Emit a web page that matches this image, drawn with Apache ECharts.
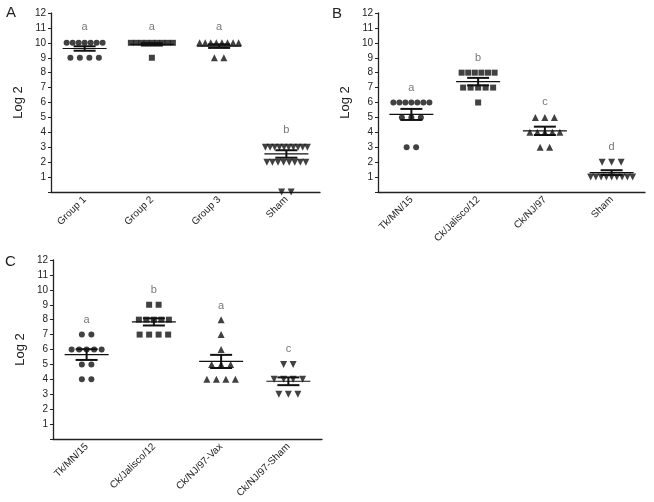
<!DOCTYPE html>
<html><head><meta charset="utf-8">
<script src="https://cdn.jsdelivr.net/npm/echarts/dist/echarts.min.js"></script>
<style>html,body{margin:0;padding:0;background:#fff}#c{width:654px;height:502px}</style>
</head><body><div id="c"></div>
<script>
// ---------- DATA ----------
const catsA = ['Group 1', 'Group 2', 'Group 3', 'Sham'];
const catsB = ['Tk/MN/15', 'Ck/Jalisco/12', 'Ck/NJ/97', 'Sham'];
const catsC = ['Tk/MN/15', 'Ck/Jalisco/12', 'Ck/NJ/97-Vax', 'Ck/NJ/97-Sham'];
const yTicks = [0, 12, 1]; // min, max, step

// individual log2 values per group
const a1 = [10,10,10,10,10,10,10,9,9,9,9];
const a2 = [10,10,10,10,10,10,10,10,10,9];
const a3 = [10,10,10,10,10,10,10,10,9,9];
const a4 = [3,3,3,3,3,3,3,3,3,3,2,2,2,2,2,2,2,2,0,0];
const b1 = [6,6,6,6,6,6,6,5,5,5,3,3];
const b2 = [8,8,8,8,8,8,7,7,7,7,7,6];
const b3 = [5,5,5,4,4,4,4,4,3,3];
const b4 = [2,2,2,1,1,1,1,1,1,1,1,1];
const c1 = [7,7,6,6,6,6,6,5,5,4,4];
const c2 = [9,9,8,8,8,8,8,7,7,7,7];
const c3 = [8,7,6,5,5,5,4,4,4,4];
const c4 = [5,5,4,4,4,4,3,3,3];

// group means and SEM
const meanA = [9.62, 9.9, 9.78, 2.55];
const semA  = [0.15, 0.08, 0.12, 0.25];
const meanB = [5.2, 7.4, 4.1, 1.3];
const semB  = [0.37, 0.25, 0.28, 0.16];
const meanC = [5.66, 7.85, 5.2, 3.87];
const semC  = [0.36, 0.24, 0.44, 0.26];

// significance letters and their heights
const letA = ['a', 'a', 'a', 'b'];
const letAy = [11.05, 11.05, 11.05, 4.15];
const letB = ['a', 'b', 'c', 'd'];
const letBy = [6.95, 9.0, 6.05, 3.0];
const letC = ['a', 'b', 'a', 'c'];
const letCy = [7.95, 10.0, 8.9, 6.05];

// ---------- BUILD ----------
const symbolDefs = [
  {symbol:'circle', size:6, rot:0},
  {symbol:'rect', size:6, rot:0},
  {symbol:'triangle', size:7, rot:0},
  {symbol:'triangle', size:7, rot:180}
];
function rowSpan(n){ if(n<=1) return 0; if(n<=4) return 9.5*(n-1); return Math.min(30+(n-5)*3, 42); }
function points(ci, vals){
  const counts = {};
  vals.forEach(v => counts[v] = (counts[v]||0)+1);
  const out = [];
  Object.keys(counts).forEach(k => {
    const n = counts[k], span = rowSpan(n);
    for(let i=0;i<n;i++){
      const dx = n>1 ? -span/2 + span*i/(n-1) : 0;
      out.push({value:[ci, Number(k)], symbolOffset:[dx,0]});
    }
  });
  return out;
}
const grids = [
  {left:51, top:13, width:269, height:179},
  {left:378, top:13, width:267, height:179},
  {left:53, top:260, width:269, height:179}
];
const panels = [
  {cats:catsA, groups:[a1,a2,a3,a4], mean:meanA, sem:semA, let:letA, lety:letAy},
  {cats:catsB, groups:[b1,b2,b3,b4], mean:meanB, sem:semB, let:letB, lety:letBy},
  {cats:catsC, groups:[c1,c2,c3,c4], mean:meanC, sem:semC, let:letC, lety:letCy}
];
const font = 'Liberation Sans, Arial, sans-serif';
const xAxes = [], yAxes = [], series = [];
panels.forEach((p, pi) => {
  xAxes.push({
    type:'category', gridIndex:pi, data:p.cats, boundaryGap:true,
    axisLine:{lineStyle:{color:'#222', width:1.3}},
    axisTick:{alignWithLabel:true, length:3, lineStyle:{color:'#222'}},
    axisLabel:{rotate:45, fontSize:10, color:'#222', interval:0, margin:6, fontFamily:font},
    splitLine:{show:false}
  });
  yAxes.push({
    type:'value', gridIndex:pi, min:yTicks[0], max:yTicks[1], interval:yTicks[2],
    axisLine:{show:true, lineStyle:{color:'#222', width:1.3}},
    axisTick:{show:true, length:3, lineStyle:{color:'#222'}},
    axisLabel:{fontSize:10, color:'#222', margin:5, fontFamily:font, formatter: v => v===0 ? '' : String(v)},
    splitLine:{show:false},
    name:'Log 2', nameLocation:'middle', nameGap:26,
    nameTextStyle:{fontSize:13, color:'#222', fontFamily:font}
  });
  p.groups.forEach((g, gi) => {
    const sd = symbolDefs[gi];
    series.push({
      type:'scatter', xAxisIndex:pi, yAxisIndex:pi,
      symbol:sd.symbol, symbolSize:sd.size, symbolRotate:sd.rot,
      itemStyle:{color:'#111'}, data:points(gi, g), z:2, silent:true
    });
  });
  // mean + SEM
  series.push({
    type:'custom', xAxisIndex:pi, yAxisIndex:pi, z:3, silent:true,
    data: p.mean.map((m,i)=>[i, m, p.sem[i]]),
    renderItem:(params, api) => {
      const x = api.value(0), m = api.value(1), s = api.value(2);
      const c = api.coord([x, m]);
      const t = api.coord([x, m+s]);
      const b = api.coord([x, m-s]);
      const st = {stroke:'#111', lineWidth:1.2};
      const st2 = {stroke:'#111', lineWidth:2};
      return {type:'group', children:[
        {type:'line', shape:{x1:c[0]-22, y1:c[1], x2:c[0]+22, y2:c[1]}, style:st},
        {type:'line', shape:{x1:c[0], y1:t[1], x2:c[0], y2:b[1]}, style:st2},
        {type:'line', shape:{x1:c[0]-11, y1:t[1], x2:c[0]+11, y2:t[1]}, style:st2},
        {type:'line', shape:{x1:c[0]-11, y1:b[1], x2:c[0]+11, y2:b[1]}, style:st2}
      ]};
    }
  });
  // letters
  series.push({
    type:'scatter', xAxisIndex:pi, yAxisIndex:pi, symbolSize:0, silent:true,
    data: p.let.map((l,i)=>({value:[i, p.lety[i]], name:l})),
    label:{show:true, position:'inside', formatter: d => d.name, fontSize:11, color:'#555', fontFamily:font}
  });
});

const chart = echarts.init(document.getElementById('c'), null, {renderer:'canvas'});
chart.setOption({
  animation:false,
  backgroundColor:'#fff',
  grid: grids,
  xAxis: xAxes,
  yAxis: yAxes,
  series: series,
  graphic: [
    {type:'text', left:6, top:5, style:{text:'A', fontSize:15, fill:'#222', fontFamily:font}},
    {type:'text', left:332, top:6, style:{text:'B', fontSize:15, fill:'#222', fontFamily:font}},
    {type:'text', left:5, top:254, style:{text:'C', fontSize:15, fill:'#222', fontFamily:font}}
  ]
});
</script></body></html>
